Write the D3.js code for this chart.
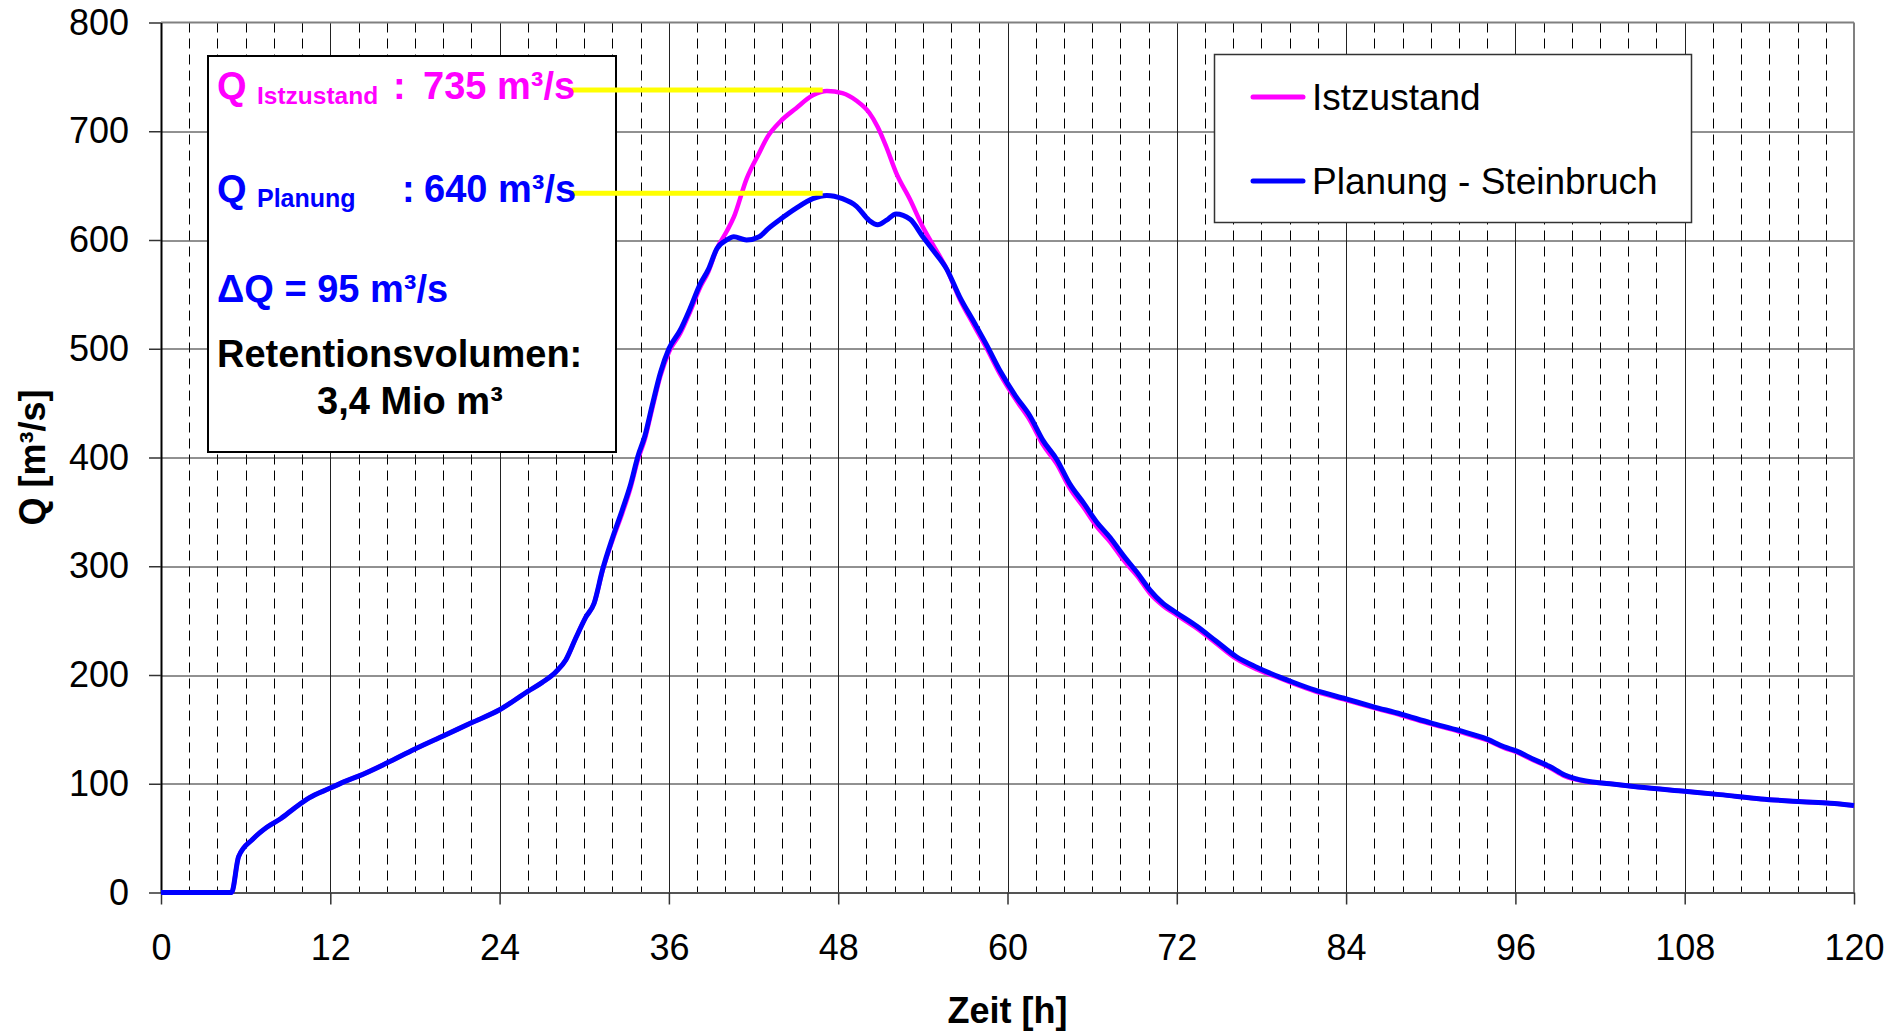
<!DOCTYPE html>
<html>
<head>
<meta charset="utf-8">
<script src="https://cdn.jsdelivr.net/npm/d3@7"></script>
<style>
    body { margin: 0; background: #fff; }
    svg { display: block; font-family: "Liberation Sans", Arial, sans-serif; }
</style>
</head>
<body>
<div id="chart"></div>
<script>

// time axis (hours) shared by both hydrographs
var zeit = [0, 5, 5.5, 6.5, 7.5, 8.5, 9.5, 10.5, 12, 13,
    14, 16, 18, 20, 22, 24, 26, 27, 28, 28.7,
    29.4, 30.1, 30.7, 31.3, 32, 32.7, 33.3, 33.8, 34.3, 34.8,
    35.4, 36, 36.8, 37.5, 38.2, 38.8, 39.4, 40.1, 40.6, 41.5,
    42.4, 43, 43.9, 45, 46.2, 47.2, 48.3, 49.3, 50.2, 50.8,
    51.4, 52.1, 53.1, 54, 54.7, 55.7, 56.6, 57.6, 58.5, 59.5,
    60.6, 61.6, 62.5, 63.5, 64.4, 65.4, 66.3, 67.3, 68.2, 69.2,
    70.1, 71, 72, 73.4, 74.8, 76.2, 77.7, 79.3, 80.1, 81.8,
    84, 85.9, 87.9, 90, 92, 94, 95.2, 96.1, 97.2, 98.4,
    99.5, 101, 102.7, 104.7, 108, 110.5, 113.4, 116.3, 118.3, 120];

// Q [m3/s] - Planung (Steinbruch)
var qPlanung = [0, 0, 33, 49, 60, 68, 78, 87, 96, 102,
    107, 119, 132, 144, 156, 168, 185, 193, 203, 214,
    234, 253, 266, 297, 326, 352, 376, 401, 420, 447,
    478, 500, 517, 537, 559, 573, 592, 600, 603, 600,
    603, 610, 619, 629, 638, 641, 638, 631, 618, 614,
    618, 624, 619, 603, 591, 573, 548, 525, 504, 479,
    456, 438, 416, 398, 376, 358, 341, 326, 310, 294,
    278, 266, 257, 245, 231, 217, 207, 198, 194, 186,
    178, 171, 164, 156, 149, 141, 134, 130, 123, 116,
    108, 102.5, 100, 97, 93, 90, 86, 83.5, 82, 80];

// Q [m3/s] - Istzustand
var qIstzustand = [0, 0, 33, 49, 60, 68, 78, 87, 96, 102,
    107, 119, 132, 144, 156, 168, 185, 193, 203, 214,
    234, 253, 266, 296, 324, 349, 373, 398, 417, 444,
    475, 497, 514, 534, 556, 571, 592, 608, 621, 656,
    680, 695, 709, 721, 733, 737, 735, 728, 717, 704,
    686, 662, 637, 612, 596, 573, 546, 522, 501, 476,
    453, 434, 412, 394, 372, 354, 337, 322, 306, 291,
    275, 264, 255, 243, 229, 215, 205, 197, 193, 185,
    177, 170, 163, 155, 148, 140, 133, 129, 122, 115,
    107, 102, 100, 97, 93, 90, 86, 83.5, 82, 80];

var xTicks = [0, 12, 24, 36, 48, 60, 72, 84, 96, 108, 120];
var yTicks = [0, 100, 200, 300, 400, 500, 600, 700, 800];

var seriesNames = ["Istzustand", "Planung - Steinbruch"];
var seriesColors = ["#ff00ff", "#0000ff"];

// yellow marker lines for the peaks
var peakLevels = [738, 643];
var peakStart = 29.1, peakEnd = 46.9;

var margin = {top: 22.5, right: 37, bottom: 140.5, left: 161};
var width = 1891 - margin.left - margin.right,
    height = 1033 - margin.top - margin.bottom;

var svg = d3.select("#chart")
    .append("svg")
    .attr("width", 1891)
    .attr("height", 1033);

var g = svg.append("g")
    .attr("transform", "translate(" + margin.left + "," + margin.top + ")");

var x = d3.scaleLinear().domain([0, 120]).range([0, width]);
var y = d3.scaleLinear().domain([0, 800]).range([height, 0]);

// minor dashed grid every 2 h
var minor = d3.range(2, 120, 2).filter(function(d) { return d % 12 !== 0; });
g.append("g").selectAll("line")
    .data(minor).enter().append("line")
    .attr("x1", function(d) { return Math.round(x(d)) + 0.5; })
    .attr("x2", function(d) { return Math.round(x(d)) + 0.5; })
    .attr("y1", 0).attr("y2", height)
    .attr("stroke", "#000")
    .attr("stroke-width", 1)
    .attr("stroke-dasharray", "10,6");

// major grid
g.append("g").selectAll("line")
    .data(xTicks.slice(1, -1)).enter().append("line")
    .attr("x1", function(d) { return Math.round(x(d)) + 0.5; })
    .attr("x2", function(d) { return Math.round(x(d)) + 0.5; })
    .attr("y1", 0).attr("y2", height)
    .attr("stroke", "#222").attr("stroke-width", 1);
g.append("g").selectAll("line")
    .data(yTicks.slice(1, -1)).enter().append("line")
    .attr("x1", 0).attr("x2", width)
    .attr("y1", function(d) { return Math.round(y(d)) + 0.5; })
    .attr("y2", function(d) { return Math.round(y(d)) + 0.5; })
    .attr("stroke", "#222").attr("stroke-width", 1);

// frame top / right
g.append("line").attr("x1", 0).attr("x2", width).attr("y1", 0).attr("y2", 0)
    .attr("stroke", "#808080").attr("stroke-width", 2);
g.append("line").attr("x1", width).attr("x2", width).attr("y1", 0).attr("y2", height)
    .attr("stroke", "#808080").attr("stroke-width", 2);

// axes
var yAxis = d3.axisLeft(y).tickValues(yTicks).tickSize(12).tickPadding(20).tickSizeOuter(0);
var xAxis = d3.axisBottom(x).tickValues(xTicks).tickSize(12).tickPadding(30).tickSizeOuter(0);

var gy = g.append("g").attr("class", "y-axis").call(yAxis);
var gx = g.append("g").attr("class", "x-axis")
    .attr("transform", "translate(0," + height + ")").call(xAxis);

gy.select(".domain").attr("stroke", "#000").attr("stroke-width", 2);
gx.select(".domain").attr("stroke", "#555").attr("stroke-width", 2);
g.selectAll(".tick line").attr("stroke", "#333").attr("stroke-width", 1.5);
g.selectAll(".tick text")
    .style("font-size", "36px")
    .style("font-family", "'Liberation Sans', Arial, sans-serif")
    .attr("fill", "#000");

// hydrographs
var line = function(values) {
    return d3.line()
        .x(function(d, i) { return x(zeit[i]); })
        .y(function(d) { return y(d); })
        .curve(d3.curveMonotoneX)(values);
};

g.append("path")
    .attr("d", line(qIstzustand))
    .attr("fill", "none")
    .attr("stroke", seriesColors[0])
    .attr("stroke-width", 4.5)
    .attr("stroke-linejoin", "round");

g.append("path")
    .attr("d", line(qPlanung))
    .attr("fill", "none")
    .attr("stroke", seriesColors[1])
    .attr("stroke-width", 5)
    .attr("stroke-linejoin", "round");

// annotation box
svg.append("rect")
    .attr("x", 208).attr("y", 56)
    .attr("width", 408).attr("height", 396)
    .attr("fill", "#fff").attr("stroke", "#000").attr("stroke-width", 2);

// yellow peak markers (on top of the box, under the text)
svg.append("g")
    .attr("transform", "translate(" + margin.left + "," + margin.top + ")")
    .selectAll("line")
    .data(peakLevels).enter().append("line")
    .attr("x1", x(peakStart)).attr("x2", x(peakEnd))
    .attr("y1", function(d) { return y(d); })
    .attr("y2", function(d) { return y(d); })
    .attr("stroke", "#ffff00")
    .attr("stroke-width", 5);

var note = svg.append("g").style("font-weight", "bold");
function addText(txt, tx, ty, size, color) {
    note.append("text")
        .attr("x", tx).attr("y", ty)
        .style("font-size", size + "px")
        .attr("fill", color)
        .text(txt);
}
addText("Q", 217, 99, 38, "#ff00ff");
addText("Istzustand", 257, 104, 24.5, "#ff00ff");
addText(":", 393, 99, 38, "#ff00ff");
addText("735 m³/s", 423, 99, 38, "#ff00ff");
addText("Q", 217, 202, 38, "#0000ff");
addText("Planung", 257, 207, 25, "#0000ff");
addText(":", 402, 202, 38, "#0000ff");
addText("640 m³/s", 424, 202, 38, "#0000ff");
addText("ΔQ = 95 m³/s", 217, 302, 38, "#0000ff");
addText("Retentionsvolumen:", 217, 367, 38, "#000");
addText("3,4 Mio m³", 317, 414, 38, "#000");

// legend
var legend = svg.append("g");
legend.append("rect")
    .attr("x", 1214.5).attr("y", 54.5)
    .attr("width", 477).attr("height", 168)
    .attr("fill", "#fff").attr("stroke", "#333").attr("stroke-width", 1.5);
seriesNames.forEach(function(name, i) {
    var ly = 97 + i * 84;
    legend.append("line")
        .attr("x1", 1253).attr("x2", 1303)
        .attr("y1", ly).attr("y2", ly)
        .attr("stroke", seriesColors[i])
        .attr("stroke-width", 5)
        .attr("stroke-linecap", "round");
    legend.append("text")
        .attr("x", 1312).attr("y", ly + 13)
        .style("font-size", "37px")
        .attr("fill", "#000")
        .text(name);
});

// axis titles
svg.append("text")
    .attr("transform", "translate(45," + (margin.top + height / 2) + ") rotate(-90)")
    .attr("text-anchor", "middle")
    .style("font-size", "36px")
    .style("font-weight", "bold")
    .text("Q [m³/s]");

svg.append("text")
    .attr("x", margin.left + width / 2)
    .attr("y", 1023)
    .attr("text-anchor", "middle")
    .style("font-size", "36px")
    .style("font-weight", "bold")
    .text("Zeit [h]");

</script>
</body>
</html>
